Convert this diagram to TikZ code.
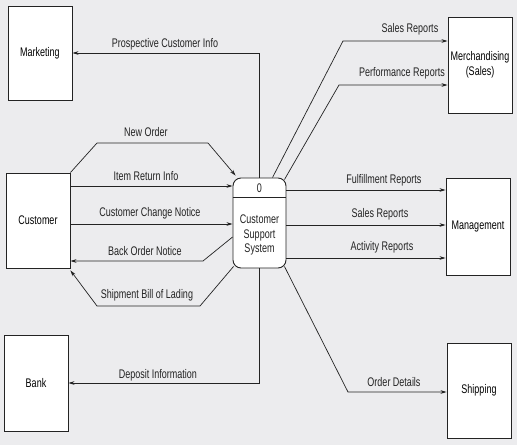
\documentclass[tikz,border=0pt]{standalone}
\usepackage{fontspec}
\setmainfont{Liberation Sans}[FakeStretch=0.72]
\usetikzlibrary{arrows.meta,calc}
\definecolor{bg}{RGB}{236,236,238}
\definecolor{ink}{RGB}{35,35,35}
\tikzset{
  ext/.style={draw=ink, line width=0.9pt, fill=white, minimum width=64pt, inner sep=0pt},
  flow/.style={draw=ink, line width=0.7pt, -{Stealth[length=6pt,width=3.6pt]}},
  lbl/.style={text=ink, inner sep=0pt},
}
\begin{document}
\begin{tikzpicture}[x=1pt,y=-1pt,font=\fontsize{12.5}{14.5}\selectfont]
\fill[bg] (0,0) rectangle (517,445);
\useasboundingbox (0,0) rectangle (517,445);
% external entities
\node[ext, minimum height=94pt] (mkt) at (40,53) {Marketing};
\node[ext, minimum height=96pt, align=center] (merch) at (480,65) {Merchandising\\(Sales)};
\node[ext, minimum height=95pt] (cust) at (38,220.5) {Customer};
\node[ext, minimum height=97pt] (mgmt) at (478,226.5) {Management};
\node[ext, minimum height=96pt] (bank) at (36,383) {Bank};
\node[ext, minimum height=95pt] (ship) at (479,390.5) {Shipping};
% process
\node[draw=ink, line width=0.9pt, fill=white, rounded corners=8pt, minimum width=53pt, minimum height=90pt, inner sep=0pt] (p) at (259.5,223) {};
\draw[ink, line width=0.8pt] (p.west |- 0,197) -- (p.east |- 0,197);
\node[lbl] (pid) at (259.5,188) {0};
\node[lbl, align=center] (pname) at (259.5,235) {Customer\\Support\\System};
% flows
\draw[flow] (p.north) |- (mkt.east);
\node[lbl] (l1) at (165,44) {Prospective Customer Info};
\draw[flow] (p.south) |- (bank.east);
\node[lbl] (l2) at (158,375) {Deposit Information};
\draw[flow] (cust.north east) -- (97,143) -- (208,143) -- ($(p.north west)+(3,-2)$);
\node[lbl] (l3) at (146,132) {New Order};
\draw[flow] (cust.east |- 0,186) -- (p.west |- 0,186);
\node[lbl] (l4) at (146,176) {Item Return Info};
\draw[flow] (cust.east |- 0,224) -- (p.west |- 0,224);
\node[lbl] (l5) at (150,213) {Customer Change Notice};
\draw[flow] (p.west |- 0,237) -- (203,261) -- (cust.east |- 0,261);
\node[lbl] (l6) at (145,251) {Back Order Notice};
\draw[flow] ($(p.south west)+(1,-2)$) -- (200,306) -- (97,306) -- ($(cust.south east)+(0,2)$);
\node[lbl] (l7) at (147,295) {Shipment Bill of Lading};
\draw[flow] ($(p.north)+(13,0)$) -- (343,41) -- (merch.west |- 0,41);
\node[lbl] (l8) at (410,29) {Sales Reports};
\draw[flow] ($(p.north east)+(-2,2)$) -- (339,85) -- (merch.west |- 0,85);
\node[lbl] (l9) at (402,73) {Performance Reports};
\draw[flow] (p.east |- 0,190) -- (mgmt.west |- 0,190);
\node[lbl] (l10) at (384,180) {Fulfillment Reports};
\draw[flow] (p.east |- 0,225) -- (mgmt.west |- 0,225);
\node[lbl] (l11) at (380,214) {Sales Reports};
\draw[flow] (p.east |- 0,258) -- (mgmt.west |- 0,258);
\node[lbl] (l12) at (382,247) {Activity Reports};
\draw[flow] ($(p.south east)+(-2,-2)$) -- (348,392) -- (ship.west |- 0,392);
\node[lbl] (l13) at (394,382) {Order Details};
\end{tikzpicture}
\end{document}
